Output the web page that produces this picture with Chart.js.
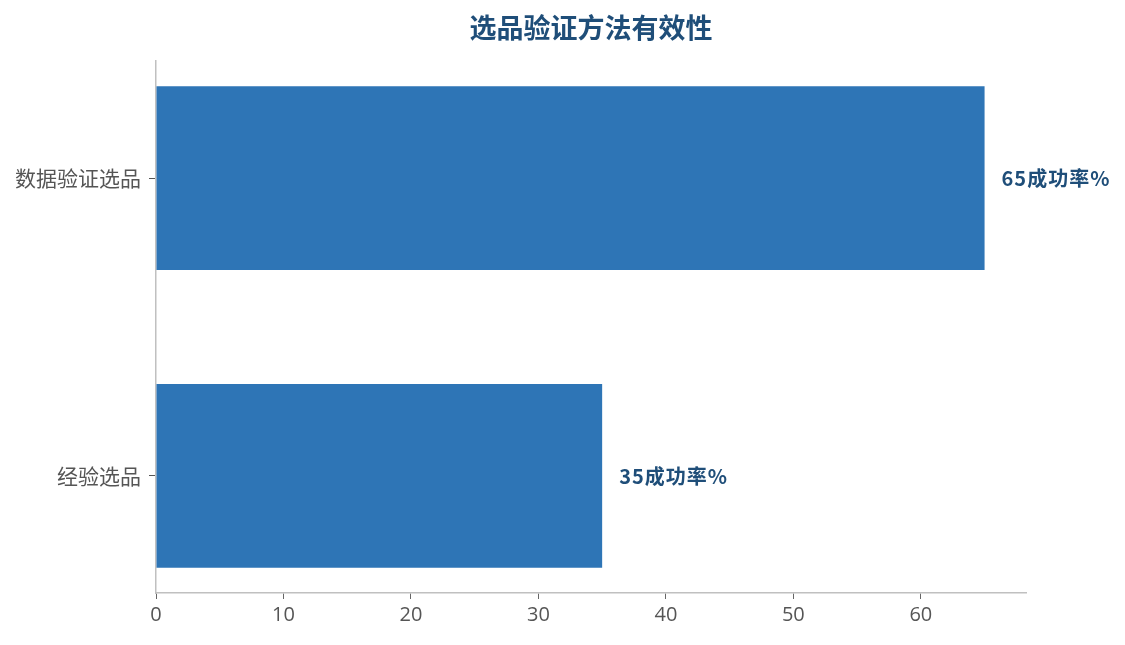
<!DOCTYPE html>
<html>
<head>
<meta charset="utf-8">
<script src="https://cdn.jsdelivr.net/npm/chart.js@4"></script>
<style>
html,body{margin:0;padding:0;background:#fff;}
#wrap{width:1125px;height:645px;}
</style>
</head>
<body>
<div id="wrap"><canvas id="c" width="1125" height="645"></canvas></div>
<script>
const titleText = '选品验证方法有效性';
const categories = ['经验选品', '数据验证选品'];
const successRates = [35, 65];
const labelSuffix = '成功率%';
const xTickStep = 10;

const FONT = '"Segoe UI","Open Sans","Noto Sans CJK SC",sans-serif';
const CJK = '"Noto Sans CJK SC","Open Sans",sans-serif';

const points = categories.map((c, i) => ({ x: successRates[i], y: i }));

const valueLabels = {
  id: 'valueLabels',
  afterDatasetsDraw(chart) {
    const ctx = chart.ctx;
    const meta = chart.getDatasetMeta(0);
    ctx.save();
    ctx.font = 'bold 20px ' + CJK;
    try { ctx.letterSpacing = '1px'; } catch (e) {}
    ctx.fillStyle = '#1f4e79';
    ctx.textAlign = 'left';
    ctx.textBaseline = 'middle';
    meta.data.forEach((el, i) => {
      ctx.fillText(successRates[i] + labelSuffix, el.x + 17, el.y);
    });
    ctx.restore();
  }
};

new Chart(document.getElementById('c'), {
  type: 'bar',
  data: {
    datasets: [{
      data: points,
      backgroundColor: '#2e75b6',
      borderWidth: 0,
      barPercentage: 0.617,
      categoryPercentage: 1
    }]
  },
  options: {
    indexAxis: 'y',
    responsive: false,
    animation: false,
    devicePixelRatio: 1,
    layout: { padding: { left: 0, right: 99, top: 0, bottom: 0 } },
    plugins: {
      legend: { display: false },
      tooltip: { enabled: false },
      title: {
        display: true,
        text: titleText,
        fullSize: false,
        color: '#1f4e79',
        font: { family: CJK, size: 27, weight: 'bold', lineHeight: 1.2 },
        padding: { top: 11.3, bottom: 17.3 }
      }
    },
    scales: {
      x: {
        type: 'linear',
        min: 0,
        max: Math.max(...successRates) * 1.05,
        afterFit(s) { s.height = 52; },
        border: { color: '#c0c0c0', width: 1.5 },
        grid: { drawOnChartArea: false, drawTicks: true, tickLength: 6, color: '#666666' },
        ticks: {
          stepSize: xTickStep,
          includeBounds: false,
          color: '#555555',
          padding: 4,
          font: { family: FONT, size: 20 }
        }
      },
      y: {
        type: 'linear',
        offset: false,
        min: -0.393,
        max: categories.length - 1 + 0.393,
        afterFit(s) { s.width = 156; },
        afterBuildTicks(s) { s.ticks = categories.map((c, i) => ({ value: i })); },
        border: { color: '#c0c0c0', width: 1.5 },
        grid: { offset: false, drawOnChartArea: false, drawTicks: true, tickLength: 7, color: '#555555' },
        ticks: {
          color: '#555555',
          padding: 8,
          font: { family: CJK, size: 21 },
          callback: (v) => categories[v]
        }
      }
    }
  },
  plugins: [valueLabels]
});
</script>
</body>
</html>
